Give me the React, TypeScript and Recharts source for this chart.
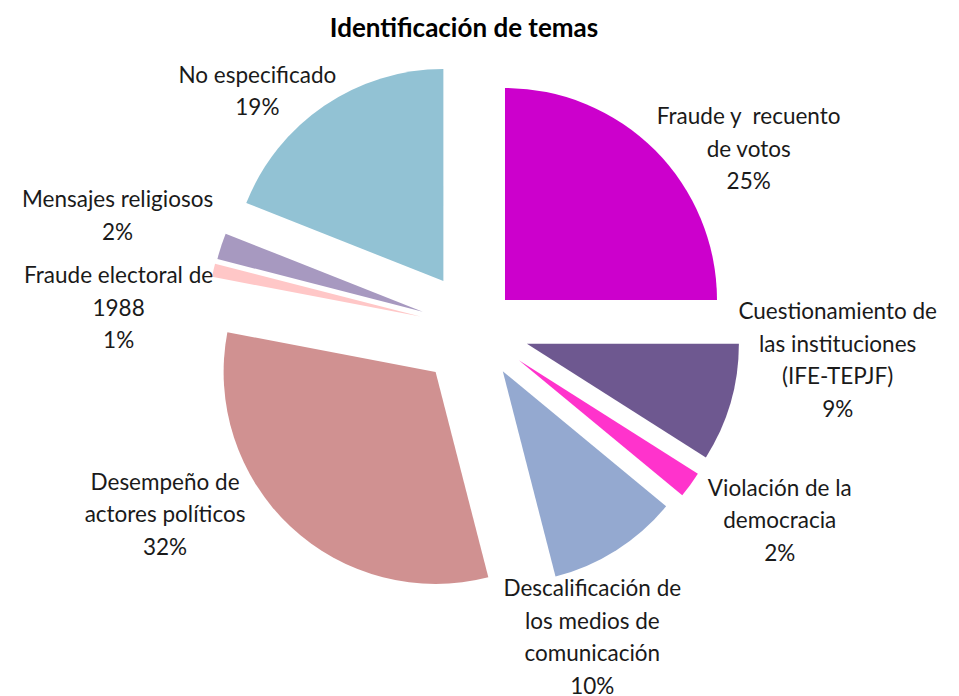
import React from 'react';
import { PieChart, Pie, Cell, Sector } from 'recharts';

const TITLE = 'Identificación de temas';

const categories = [
  'Fraude y  recuento\nde votos',
  'Cuestionamiento de\nlas instituciones\n(IFE-TEPJF)',
  'Violación de la\ndemocracia',
  'Descalificación de\nlos medios de\ncomunicación',
  'Desempeño de\nactores políticos',
  'Fraude electoral de\n1988',
  'Mensajes religiosos',
  'No especificado',
];

const shares = [25, 9, 2, 10, 32, 1, 2, 19];

const colors = ['#CC00CC', '#6E5890', '#FF33CC', '#94A9D0', '#D09191', '#FFC7C7', '#A799C0', '#92C2D4'];

// how far each slice is pulled out of the pie (px)
const explode = [41, 53, 53, 50, 59, 57, 56, 58];
// label placement: angle shift from the slice middle (deg, clockwise) and distance from centre
const labelShift = [11.5, -11.3, -3.8, 11.7, 16, -9.2, -0.4, -8.4];
const labelDist = [327, 363, 359, 329, 362, 358, 376, 323];

const data = categories.map((name, i) => ({ name, value: shares[i] }));

const RAD = Math.PI / 180;
const FONT = 'Lato, "Open Sans", sans-serif';
const LINE_H = 32.5;

const idxOf = (p: any) => {
  const n = p?.payload?.name ?? p?.name;
  return categories.indexOf(n);
};

const ExplodedSector = (props: any) => {
  const i = idxOf(props);
  const d = explode[i] ?? 0;
  const dx = d * Math.cos(-props.midAngle * RAD);
  const dy = d * Math.sin(-props.midAngle * RAD);
  return (
    <Sector
      cx={props.cx + dx}
      cy={props.cy + dy}
      innerRadius={props.innerRadius}
      outerRadius={props.outerRadius}
      startAngle={props.startAngle}
      endAngle={props.endAngle}
      fill={props.fill}
      stroke="none"
    />
  );
};

const renderLabel = (props: any) => {
  const i = idxOf(props);
  if (i < 0) return null;
  const a = props.midAngle - labelShift[i];
  const x = props.cx + labelDist[i] * Math.cos(-a * RAD);
  const y = props.cy + labelDist[i] * Math.sin(-a * RAD);
  const lines = [...categories[i].split('\n'), `${Math.round(props.percent * 100)}%`];
  const y0 = y - ((lines.length - 1) * LINE_H) / 2 + 8;
  return (
    <text
      key={`lbl-${i}`}
      x={x}
      y={y0}
      textAnchor="middle"
      fill="#1a1a1a"
      fontSize={22.5}
      fontFamily={FONT}
      style={{ whiteSpace: 'pre' }}
    >
      {lines.map((t, k) => (
        <tspan key={k} x={x} y={y0 + k * LINE_H}>
          {t}
        </tspan>
      ))}
    </text>
  );
};

export default function App() {
  return (
    <div style={{ position: 'absolute', left: 0, top: 0, width: 959, height: 696, background: '#fff' }}>
      <PieChart width={959} height={696} margin={{ top: 0, right: 0, bottom: 0, left: 0 }}>
        <text x={464} y={37} textAnchor="middle" fontFamily={FONT} fontWeight="bold" fontSize={26} fill="#000">
          {TITLE}
        </text>
        <Pie
          data={data}
          dataKey="value"
          nameKey="name"
          cx={476}
          cy={329}
          outerRadius={212}
          startAngle={90}
          endAngle={-270}
          stroke="none"
          shape={ExplodedSector}
          label={renderLabel}
          labelLine={false}
          isAnimationActive={false}
        >
          {data.map((d, i) => (
            <Cell key={d.name} fill={colors[i]} />
          ))}
        </Pie>
      </PieChart>
    </div>
  );
}
